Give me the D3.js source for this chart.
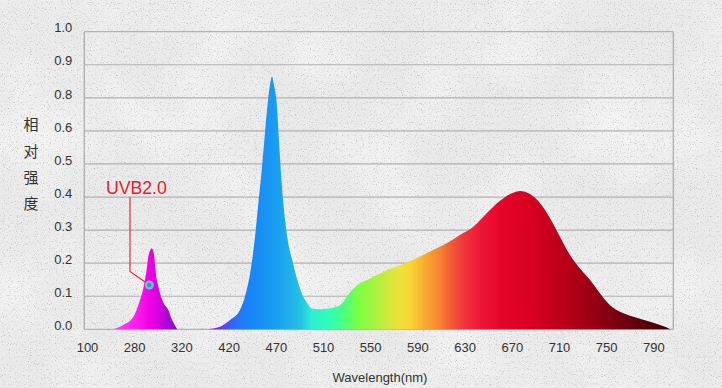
<!DOCTYPE html>
<html>
<head>
<meta charset="utf-8">
<script src="https://cdn.jsdelivr.net/npm/d3@7"></script>
<style>
  html, body { margin: 0; padding: 0; background: #ebebeb; }
  svg { display: block; }
  .axis text { font-family: "Liberation Sans", Arial, sans-serif; font-size: 13px; fill: #333; }
</style>
</head>
<body>
<svg id="chart" width="722" height="388"></svg>
<script>
// axis tick labels (x axis is not linear, ticks are evenly spaced)
const xTicks = [100, 280, 320, 420, 470, 510, 550, 590, 630, 670, 710, 750, 790];
const yTicks = [0, 0.1, 0.2, 0.3, 0.4, 0.5, 0.6, 0.8, 0.9, 1.0];

// UVB lamp peak
const uvbNm  = [200, 238, 277, 284, 288, 290.5, 292, 295, 297, 298, 300.5, 305, 309, 311, 313.5, 316.5];
const uvbRel = [0, 0.013, 0.038, 0.079, 0.129, 0.179, 0.22, 0.245, 0.22, 0.179, 0.129, 0.079, 0.058, 0.038, 0.018, 0];

// full spectrum LED
const ledNm  = [373, 402, 421.5, 432, 437.4, 443.4, 448, 451.5, 455.1, 458.2, 461.4, 463.8, 466, 468.1, 470.8, 472.5,
                474.2, 476.4, 479.7, 484.6, 489, 493.1, 496.5, 500.5,
                507.5, 516, 524.4, 533, 541.4, 550, 558.3, 586.5, 600.7, 614.8, 626, 637.4, 648.7, 660, 671.3, 677,
                685.4, 694, 702.4, 710.8, 719.3, 727.8, 736.3, 744.7, 753.2, 761.7, 773, 784.3, 795.6, 802.6, 804];
const ledRel = [0, 0.008, 0.028, 0.058, 0.099, 0.179, 0.28, 0.381, 0.482, 0.582, 0.767, 0.839, 0.864, 0.839, 0.767, 0.582,
                0.482, 0.381, 0.28, 0.2, 0.14, 0.1, 0.08, 0.063,
                0.061, 0.064, 0.073, 0.112, 0.139, 0.154, 0.169, 0.21, 0.235, 0.26, 0.285, 0.31, 0.351, 0.389, 0.413, 0.418,
                0.409, 0.381, 0.336, 0.28, 0.225, 0.184, 0.149, 0.109, 0.073, 0.053, 0.038, 0.026, 0.013, 0.003, 0];

// colour of the fill along the wavelength axis
const colorNm = [199, 281, 293, 302, 316, 374, 401, 425, 442, 464, 482, 491, 501, 516, 529, 541, 554, 567, 575,
                 584, 596, 609, 619, 630, 643, 660, 685, 711, 736, 762, 787, 804];
const colorHex = ["#ff3cff", "#ff20f0", "#f000e4", "#d000dc", "#7a12c8", "#8a1cf0", "#6a30f4", "#2c6cfc", "#1884f8",
                  "#1898f2", "#20aeea", "#22c4e2", "#2ef0d2", "#30ffb4", "#50ff78", "#80ff40", "#aaf240", "#d6e83c",
                  "#eee23a", "#f8d634", "#f8ac30", "#f68232", "#f25834", "#f0343c", "#ef1838", "#e6062a", "#d80020",
                  "#be001a", "#9c0014", "#74000e", "#540008", "#420000"];

// UVB2.0 callout
const calloutText = "UVB2.0";
const calloutPoint = [292.8, 0.134];
const calloutElbow = [264, 0.175];
const calloutTop = 0.399;
const calloutLabel = [172, 0.409];

const yTitle = ["相", "对", "强", "度"];
const xTitle = "Wavelength(nm)";

const svg = d3.select("#chart");
const margin = { top: 31.7, left: 84.3 };
const width = 589, height = 297.6;

const defs = svg.append("defs");
const grain = defs.append("filter").attr("id", "grain")
  .attr("x", 0).attr("y", 0).attr("width", "100%").attr("height", "100%");
grain.append("feTurbulence").attr("type", "fractalNoise").attr("baseFrequency", 0.85)
  .attr("numOctaves", 2).attr("seed", 7).attr("result", "n");
grain.append("feColorMatrix").attr("type", "matrix")
  .attr("values", "0 0 0 0 0.42  0 0 0 0 0.42  0 0 0 0 0.42  3.2 0 0 0 -1.8");
const blotch = defs.append("filter").attr("id", "blotch")
  .attr("x", 0).attr("y", 0).attr("width", "100%").attr("height", "100%");
blotch.append("feTurbulence").attr("type", "fractalNoise").attr("baseFrequency", 0.012)
  .attr("numOctaves", 3).attr("seed", 2);
blotch.append("feColorMatrix").attr("type", "matrix")
  .attr("values", "0 0 0 0 1  0 0 0 0 1  0 0 0 0 1  1.6 0 0 0 -0.55");

svg.append("rect").attr("width", 722).attr("height", 388).attr("fill", "#eaeaea");
svg.append("rect").attr("width", 722).attr("height", 388).attr("filter", "url(#blotch)").attr("opacity", 0.5);
svg.append("rect").attr("width", 722).attr("height", 388).attr("filter", "url(#grain)").attr("opacity", 0.7);

const x = d3.scaleLinear()
  .domain(xTicks)
  .range(xTicks.map((d, i) => 2.7 + i * 47.2));
const y = d3.scaleLinear()
  .domain(yTicks)
  .range(yTicks.map((d, i) => height - i * height / (yTicks.length - 1)));

const g = svg.append("g").attr("transform", `translate(${margin.left},${margin.top})`);

// gridlines + frame
g.append("g").selectAll("line")
  .data(yTicks)
  .join("line")
  .attr("x1", 0).attr("x2", width)
  .attr("y1", d => y(d)).attr("y2", d => y(d))
  .attr("stroke", "#b2b2b2").attr("stroke-width", 1.2);
g.append("line").attr("x1", 0).attr("x2", 0).attr("y1", y(1)).attr("y2", y(0))
  .attr("stroke", "#aaa").attr("stroke-width", 1.2);
g.append("line").attr("x1", width).attr("x2", width).attr("y1", y(1)).attr("y2", y(0))
  .attr("stroke", "#aaa").attr("stroke-width", 1.2);

// spectrum gradient
const gx1 = x(colorNm[0]), gx2 = x(colorNm[colorNm.length - 1]);
const grad = defs.append("linearGradient").attr("id", "spectrum")
  .attr("gradientUnits", "userSpaceOnUse")
  .attr("x1", gx1).attr("x2", gx2).attr("y1", 0).attr("y2", 0);
grad.selectAll("stop")
  .data(colorNm)
  .join("stop")
  .attr("offset", d => (x(d) - gx1) / (gx2 - gx1))
  .attr("stop-color", (d, i) => colorHex[i]);

const area = d3.area()
  .x(d => x(d[0]))
  .y0(y(0))
  .y1(d => y(d[1]))
  .curve(d3.curveMonotoneX);

g.append("path")
  .datum(uvbNm.map((d, i) => [d, uvbRel[i]]))
  .attr("d", area)
  .attr("fill", "url(#spectrum)");
g.append("path")
  .datum(ledNm.map((d, i) => [d, ledRel[i]]))
  .attr("d", area)
  .attr("fill", "url(#spectrum)");

// axes
const xAxis = g.append("g").attr("class", "axis")
  .attr("transform", `translate(0,${height})`)
  .call(d3.axisBottom(x).tickValues(xTicks).tickSize(0).tickPadding(13).tickFormat(d3.format("d")));
xAxis.select(".domain").remove();

const yAxis = g.append("g").attr("class", "axis")
  .call(d3.axisLeft(y).tickValues(yTicks).tickSize(0).tickPadding(12).tickFormat(d3.format(".1f")));
yAxis.select(".domain").remove();
yAxis.selectAll("text").attr("y", -4);

// axis titles
svg.append("g").selectAll("text")
  .data(yTitle)
  .join("text")
  .attr("x", 31)
  .attr("y", (d, i) => 125 + i * 26.3)
  .attr("dy", "0.36em")
  .attr("text-anchor", "middle")
  .attr("font-family", "'Noto Sans CJK SC', sans-serif")
  .attr("font-size", 15)
  .attr("fill", "#333")
  .text(d => d);

svg.append("text")
  .attr("x", 380).attr("y", 382)
  .attr("text-anchor", "middle")
  .attr("font-family", "'Liberation Sans', Arial, sans-serif")
  .attr("font-size", 13)
  .attr("fill", "#333")
  .text(xTitle);

// callout
const red = "#e8202c";
g.append("path")
  .attr("d", d3.line()([
    [x(calloutElbow[0]), y(calloutTop)],
    [x(calloutElbow[0]), y(calloutElbow[1])],
    [x(calloutPoint[0]), y(calloutPoint[1])]
  ]))
  .attr("fill", "none")
  .attr("stroke", red)
  .attr("stroke-width", 1.1);
g.append("circle")
  .attr("cx", x(calloutPoint[0])).attr("cy", y(calloutPoint[1]))
  .attr("r", 4.5).attr("fill", "#5fd3dc").attr("opacity", 0.9);
g.append("circle")
  .attr("cx", x(calloutPoint[0])).attr("cy", y(calloutPoint[1]))
  .attr("r", 2.2).attr("fill", "#2a9aab");
g.append("text")
  .attr("x", x(calloutLabel[0])).attr("y", y(calloutLabel[1]))
  .attr("font-family", "'Liberation Sans', Arial, sans-serif")
  .attr("font-size", 18)
  .attr("textLength", 61)
  .attr("lengthAdjust", "spacingAndGlyphs")
  .attr("fill", red)
  .text(calloutText);
</script>
</body>
</html>
